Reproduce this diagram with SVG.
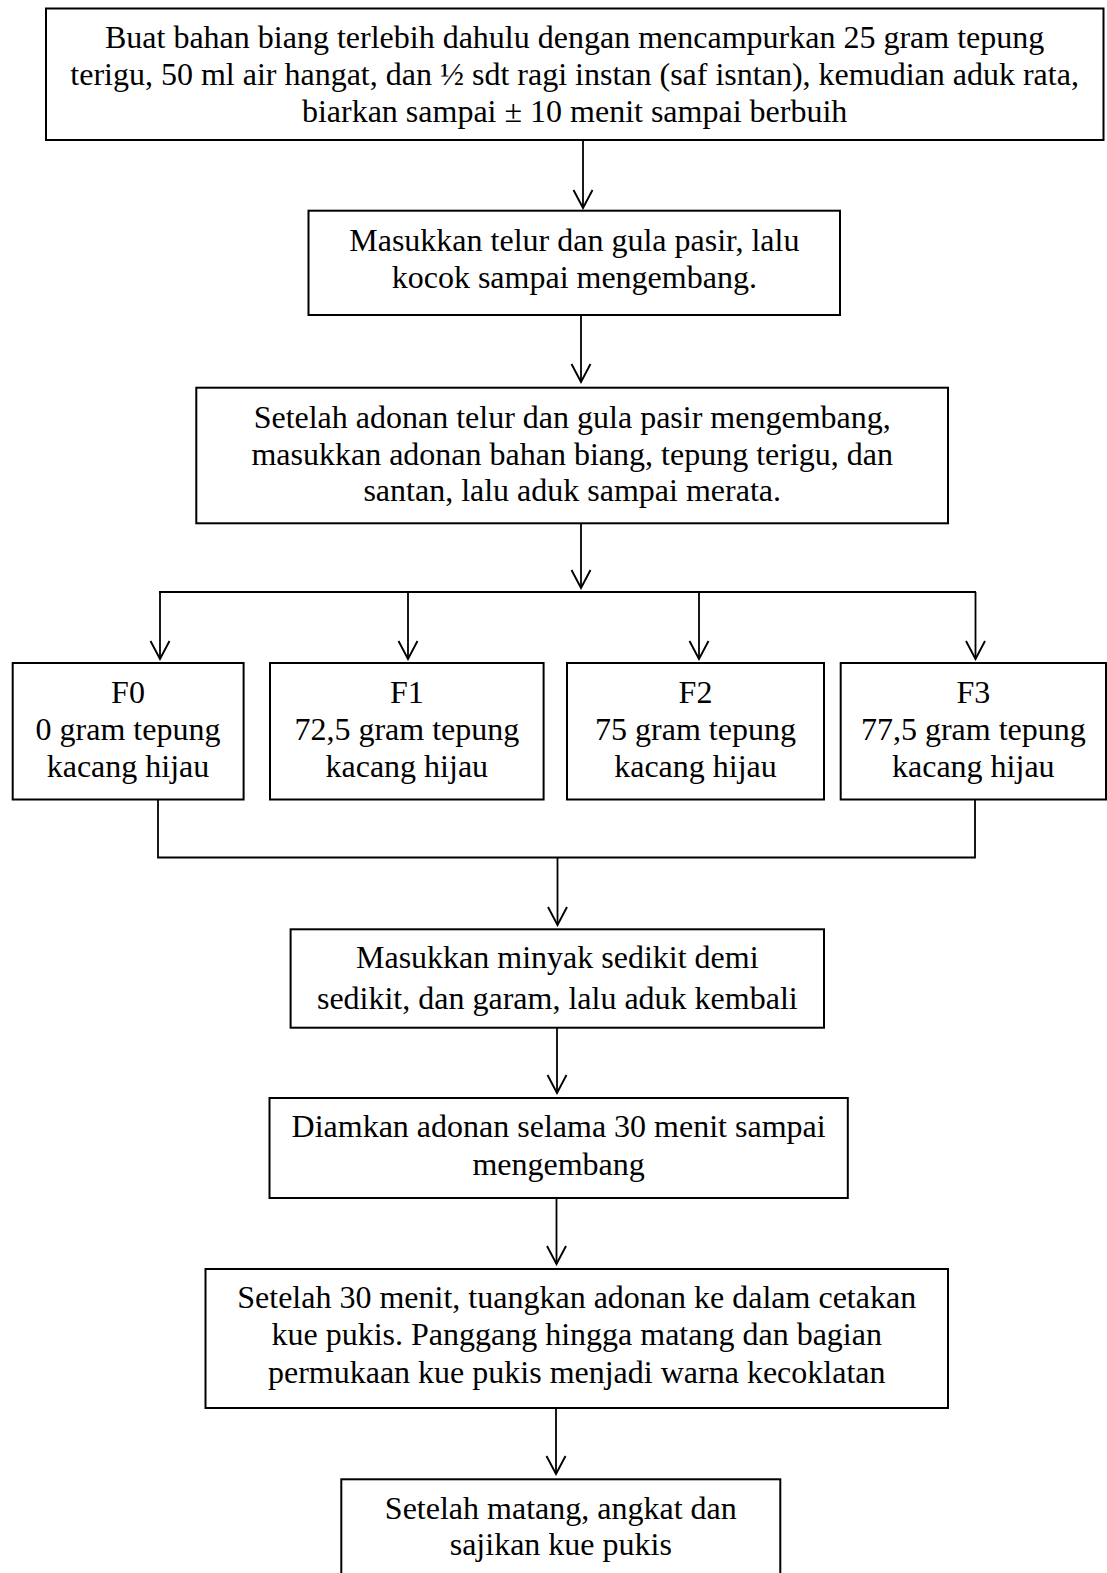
<svg xmlns="http://www.w3.org/2000/svg" width="1107" height="1573" viewBox="0 0 1107 1573">
<style>
.box{fill:#fff;stroke:#000;stroke-width:2}
.t{font-family:"Liberation Serif","Times New Roman",serif;font-size:32px;fill:#000;text-anchor:middle}
.c{fill:none;stroke:#000;stroke-width:1.8}
</style>
<defs>
<marker id="ah" markerUnits="userSpaceOnUse" viewBox="-20 -11 22 22" markerWidth="22" markerHeight="22" refX="0" refY="0" orient="auto">
<path d="M-18,-9.5 L0,0 L-18,9.5" fill="none" stroke="#000" stroke-width="1.9"/>
</marker>
</defs>
<rect width="1107" height="1573" fill="#fff"/>
<g id="connectors">
<line class="c" x1="583" y1="141" x2="583" y2="208" marker-end="url(#ah)"/>
<line class="c" x1="581" y1="316" x2="581" y2="382" marker-end="url(#ah)"/>
<line class="c" x1="581" y1="524" x2="581" y2="588" marker-end="url(#ah)"/>
<line class="c" x1="159" y1="592" x2="976" y2="592"/>
<line class="c" x1="160" y1="592" x2="160" y2="659" marker-end="url(#ah)"/>
<line class="c" x1="408" y1="592" x2="408" y2="659" marker-end="url(#ah)"/>
<line class="c" x1="699" y1="592" x2="699" y2="659" marker-end="url(#ah)"/>
<line class="c" x1="975.5" y1="592" x2="975.5" y2="659" marker-end="url(#ah)"/>
<polyline class="c" points="158,800 158,857.5 975,857.5 975,800"/>
<line class="c" x1="557.5" y1="857.5" x2="557.5" y2="925" marker-end="url(#ah)"/>
<line class="c" x1="557" y1="1028" x2="557" y2="1093" marker-end="url(#ah)"/>
<line class="c" x1="556.5" y1="1198" x2="556.5" y2="1264" marker-end="url(#ah)"/>
<line class="c" x1="556" y1="1408" x2="556" y2="1474" marker-end="url(#ah)"/>
</g>
<g id="n1">
<rect class="box" x="46" y="8.5" width="1057.5" height="131.5"/>
<text class="t" x="574.6" y="47.5">Buat bahan biang terlebih dahulu dengan mencampurkan 25 gram tepung</text>
<text class="t" x="574.6" y="84.8">terigu, 50 ml air hangat, dan ½ sdt ragi instan (saf isntan), kemudian aduk rata,</text>
<text class="t" x="574.6" y="121.8">biarkan sampai ± 10 menit sampai berbuih</text>
</g>
<g id="n2">
<rect class="box" x="308.5" y="210.7" width="531.5" height="104.3"/>
<text class="t" x="574.3" y="250.7">Masukkan telur dan gula pasir, lalu</text>
<text class="t" x="574.3" y="288.3">kocok sampai mengembang.</text>
</g>
<g id="n3">
<rect class="box" x="196.3" y="387.7" width="751.7" height="135.6"/>
<text class="t" x="572.2" y="428">Setelah adonan telur dan gula pasir mengembang,</text>
<text class="t" x="572.2" y="464.5">masukkan adonan bahan biang, tepung terigu, dan</text>
<text class="t" x="572.2" y="500.7">santan, lalu aduk sampai merata.</text>
</g>
<g id="f0">
<rect class="box" x="12.7" y="663" width="230.9" height="136.5"/>
<text class="t" x="128" y="702.5">F0</text>
<text class="t" x="128" y="740">0 gram tepung</text>
<text class="t" x="128" y="777">kacang hijau</text>
</g>
<g id="f1">
<rect class="box" x="270" y="663" width="273.6" height="136.5"/>
<text class="t" x="406.8" y="702.5">F1</text>
<text class="t" x="406.8" y="740">72,5 gram tepung</text>
<text class="t" x="406.8" y="777">kacang hijau</text>
</g>
<g id="f2">
<rect class="box" x="567" y="663" width="257" height="136.5"/>
<text class="t" x="695.5" y="702.5">F2</text>
<text class="t" x="695.5" y="740">75 gram tepung</text>
<text class="t" x="695.5" y="777">kacang hijau</text>
</g>
<g id="f3">
<rect class="box" x="840.7" y="663" width="265.3" height="136.5"/>
<text class="t" x="973.3" y="702.5">F3</text>
<text class="t" x="973.3" y="740">77,5 gram tepung</text>
<text class="t" x="973.3" y="777">kacang hijau</text>
</g>
<g id="n5">
<rect class="box" x="290.6" y="929.3" width="533.4" height="98.4"/>
<text class="t" x="557.3" y="968">Masukkan minyak sedikit demi</text>
<text class="t" x="557.3" y="1009">sedikit, dan garam, lalu aduk kembali</text>
</g>
<g id="n6">
<rect class="box" x="269.5" y="1098" width="578.3" height="100"/>
<text class="t" x="558.6" y="1137">Diamkan adonan selama 30 menit sampai</text>
<text class="t" x="558.6" y="1175">mengembang</text>
</g>
<g id="n7">
<rect class="box" x="205.5" y="1269" width="742.5" height="139"/>
<text class="t" x="576.7" y="1308">Setelah 30 menit, tuangkan adonan ke dalam cetakan</text>
<text class="t" x="576.7" y="1345.3">kue pukis. Panggang hingga matang dan bagian</text>
<text class="t" x="576.7" y="1382.7">permukaan kue pukis menjadi warna kecoklatan</text>
</g>
<g id="n8">
<rect class="box" x="341.3" y="1479.3" width="439" height="100"/>
<text class="t" x="560.8" y="1518.5">Setelah matang, angkat dan</text>
<text class="t" x="560.8" y="1555">sajikan kue pukis</text>
</g>
</svg>
